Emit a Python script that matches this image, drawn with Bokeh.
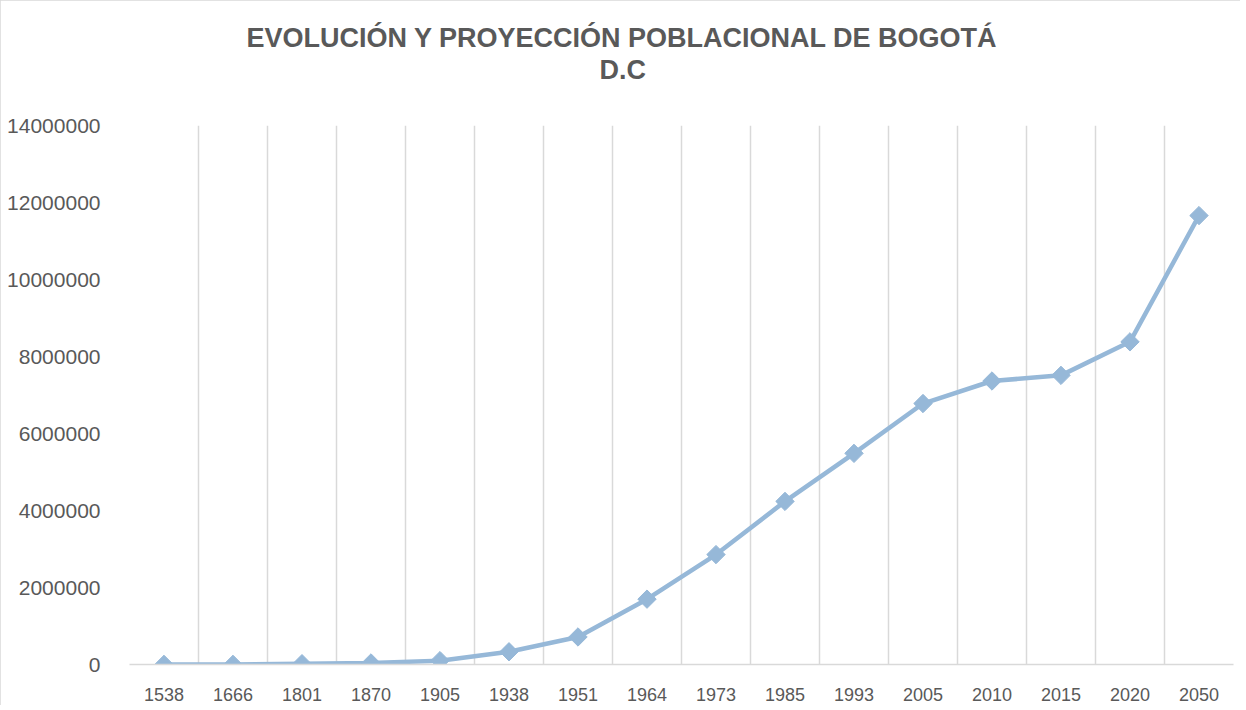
import math
from bokeh.plotting import figure
from bokeh.models import Range1d, FixedTicker, Title, BasicTickFormatter, ColumnDataSource
from bokeh.embed import file_html
from bokeh.resources import INLINE

# ---- data ----
years = ["1538", "1666", "1801", "1870", "1905", "1938", "1951", "1964",
         "1973", "1985", "1993", "2005", "2010", "2015", "2020", "2050"]
population = [3000, 3000, 21000, 40000, 100000, 330312, 715250, 1697311,
              2855065, 4236490, 5484244, 6778691, 7363782, 7510000, 8380801, 11660000]
title_line1 = "EVOLUCIÓN Y PROYECCIÓN POBLACIONAL DE BOGOTÁ"
title_line2 = "D.C"
y_ticks = [0, 2000000, 4000000, 6000000, 8000000, 10000000, 12000000, 14000000]

TEXT = "#595959"
GRID = "#d9d9d9"
SERIES = "#96b8d8"

idx = list(range(len(years)))
src = ColumnDataSource(dict(x=idx, y=population, year=years))

p = figure(width=1240, height=705, output_backend="svg", toolbar_location=None,
           x_range=Range1d(-0.5, len(years) - 0.5), y_range=Range1d(0, y_ticks[-1]),
           min_border_left=129, min_border_right=7, min_border_top=125, min_border_bottom=41)
p.outline_line_color = None
p.styles = {"outline": "1px solid #d9d9d9", "outline-offset": "-1px"}

p.line("x", "y", source=src, line_color=SERIES, line_width=4.5, line_join="round")
p.scatter("x", "y", source=src, marker="square", size=13, angle=math.pi / 4,
          fill_color=SERIES, line_color=SERIES)

# x axis
p.xaxis.ticker = FixedTicker(ticks=idx)
p.xaxis.major_label_overrides = {i: y for i, y in zip(idx, years)}
p.xaxis.axis_line_color = GRID
p.xaxis.axis_line_width = 1.5
p.xaxis.major_tick_line_color = None
p.xaxis.minor_tick_line_color = None
p.xaxis.major_label_standoff = 17
p.xaxis.major_label_text_font = "Liberation Sans"
p.xaxis.major_label_text_font_size = "18px"
p.xaxis.major_label_text_color = TEXT

p.xgrid.ticker = FixedTicker(ticks=[i - 0.5 for i in range(len(years) + 1)])
p.xgrid.grid_line_color = GRID
p.xgrid.grid_line_width = 1.5
p.ygrid.grid_line_color = None

# y axis
p.yaxis.ticker = FixedTicker(ticks=y_ticks)
p.yaxis.formatter = BasicTickFormatter(use_scientific=False)
p.yaxis.axis_line_color = None
p.yaxis.major_tick_line_color = None
p.yaxis.minor_tick_line_color = None
p.yaxis.major_label_standoff = 23
p.yaxis.major_label_text_font = "Liberation Sans"
p.yaxis.major_label_text_font_size = "21px"
p.yaxis.major_label_text_color = TEXT

# title: two lines above the frame; first added sits nearest the frame
tstyle = dict(align="left", vertical_align="bottom", text_font="Liberation Sans",
              text_font_style="bold", text_font_size="27px", text_color=TEXT)
p.add_layout(Title(text=" ", standoff=9, **tstyle), "above")            # gap above the frame
p.add_layout(Title(text=title_line2, offset=470, standoff=0, **tstyle), "above")
p.add_layout(Title(text=title_line1, offset=117, standoff=0, **tstyle), "above")

open("out.html", "w").write(file_html(p, INLINE))
